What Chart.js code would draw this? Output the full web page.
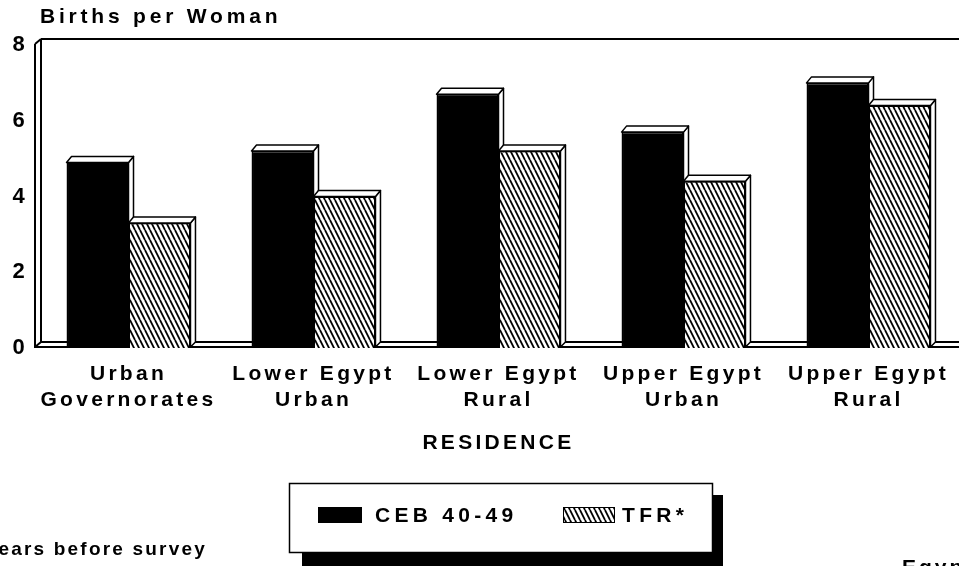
<!DOCTYPE html>
<html><head><meta charset="utf-8">
<script src="https://cdn.jsdelivr.net/npm/chart.js@4/dist/chart.umd.min.js"></script>
<style>html,body{margin:0;padding:0;background:#fff;overflow:hidden;} #wrap{width:961px;height:566px;overflow:hidden;}</style>
</head><body><div id="wrap"><canvas id="c" width="961" height="566"></canvas></div>
<script>
const categories = [["Urban","Governorates"],["Lower Egypt","Urban"],["Lower Egypt","Rural"],["Upper Egypt","Urban"],["Upper Egypt","Rural"]];
const seriesNames = ["CEB 40-49","TFR*"];
const cebValues = [4.9, 5.2, 6.7, 5.7, 7.0];
const tfrValues = [3.3, 4.0, 5.2, 4.4, 6.4];
const yTickValues = [0, 2, 4, 6, 8];
const yTitle = "Births per Woman";
const xTitle = "RESIDENCE";
const footnote = "*0-4 years before survey";
const sourceNote = "Egypt 1988";

const FAM = "'Liberation Sans', Arial, Helvetica, sans-serif";
const DX = 5, DY = 6;

function hatchPattern(ctx){
  const c = document.createElement('canvas'); c.width = 5; c.height = 10;
  const g = c.getContext('2d');
  g.fillStyle = '#fff'; g.fillRect(0,0,5,10);
  g.strokeStyle = '#000'; g.lineWidth = 1.8;
  for (const o of [-5,0,5]) { g.beginPath(); g.moveTo(o,0); g.lineTo(o+5,10); g.stroke(); }
  return ctx.createPattern(c,'repeat');
}

const canvas = document.getElementById('c');
const ctx0 = canvas.getContext('2d');
const hatch = hatchPattern(ctx0);

function spacedText(ctx, txt, x, y, font, ls, align, baseline){
  ctx.save();
  ctx.font = font; ctx.fillStyle = '#000';
  ctx.letterSpacing = ls + 'px';
  ctx.textAlign = align || 'left'; ctx.textBaseline = baseline || 'middle';
  ctx.fillText(txt, x, y);
  ctx.restore();
}

function drawFaces(c, bars){
  c.save(); c.strokeStyle = '#000'; c.fillStyle = '#fff'; c.lineWidth = 1.5; c.lineJoin = 'round';
  bars.forEach(bar => {
    const p = bar.getProps(['x','y','base','width'], true);
    const L = p.x - p.width/2, R = p.x + p.width/2, y = p.y, b = p.base;
    c.beginPath();
    c.moveTo(R, y); c.lineTo(R+DX, y-DY); c.lineTo(R+DX, b-DY); c.lineTo(R, b-1); c.closePath();
    c.fill(); c.stroke();
    c.beginPath();
    c.moveTo(L, y); c.lineTo(L+DX, y-DY); c.lineTo(R+DX, y-DY); c.lineTo(R, y); c.closePath();
    c.fill(); c.stroke();
  });
  c.restore();
}

const deco = {
  id: 'deco',
  beforeDraw(chart){ chart.ctx.letterSpacing = '3.3px'; },
  beforeDatasetsDraw(chart){
    const c = chart.ctx; const {left, top, right, bottom} = chart.chartArea;
    c.save(); c.letterSpacing = '0px';
    c.strokeStyle = '#000'; c.lineWidth = 2;
    c.beginPath();
    c.moveTo(left+DX, top-DY); c.lineTo(right+20, top-DY);
    c.moveTo(left+DX, top-DY); c.lineTo(left+DX, bottom-DY); c.lineTo(right+20, bottom-DY);
    c.moveTo(left-1, top-1); c.lineTo(left-1, bottom-1); c.lineTo(right+20, bottom-1);
    c.moveTo(left-1, top-1); c.lineTo(left+DX, top-DY);
    c.moveTo(left-1, bottom-1); c.lineTo(left+DX, bottom-DY);
    c.stroke();
    c.restore();
  },
  afterDatasetsDraw(chart){
    const c = chart.ctx;
    const m0 = chart.getDatasetMeta(0), m1 = chart.getDatasetMeta(1);
    drawFaces(c, m0.data);
    m1.data.forEach(el => el.draw(c, chart.chartArea));
    drawFaces(c, m1.data);
  },
  afterDraw(chart){
    const c = chart.ctx;
    spacedText(c, yTitle, 40, 17, "bold 21px " + FAM, 3.8, 'left', 'middle');
    c.save(); c.letterSpacing = '0px';
    c.fillStyle = '#000';
    c.fillRect(302, 552, 421, 20);
    c.fillRect(712, 495, 11, 75);
    c.strokeStyle = '#000'; c.lineWidth = 1.5;
    c.fillStyle = '#fff'; c.fillRect(289.5, 483.5, 423, 69);
    c.strokeRect(289.5, 483.5, 423, 69);
    const ds = chart.data.datasets;
    c.fillStyle = ds[0].backgroundColor; c.fillRect(318, 507, 44, 16);
    c.fillStyle = ds[1].backgroundColor; c.fillRect(563, 507, 52, 16);
    c.lineWidth = 1; c.strokeRect(563.5, 507.5, 51, 15);
    c.restore();
    spacedText(c, ds[0].label, 375, 516, "bold 21px " + FAM, 4.3, 'left', 'middle');
    spacedText(c, ds[1].label, 622, 516, "bold 21px " + FAM, 4.3, 'left', 'middle');
    spacedText(c, footnote, 207, 555, "bold 19px " + FAM, 2.2, 'right', 'alphabetic');
    spacedText(c, sourceNote, 902, 574, "bold 21px " + FAM, 3, 'left', 'alphabetic');
  }
};

new Chart(canvas, {
  type: 'bar',
  data: {
    labels: categories,
    datasets: [
      { label: seriesNames[0], data: cebValues, backgroundColor: '#000', borderColor: '#000', borderWidth: 1.5 },
      { label: seriesNames[1], data: tfrValues, backgroundColor: hatch, borderColor: '#000', borderWidth: 1.5 }
    ]
  },
  options: {
    responsive: false, animation: false, devicePixelRatio: 1,
    layout: { padding: { top: 45, bottom: 108, left: 0, right: 0 } },
    datasets: { bar: { categoryPercentage: 0.67, barPercentage: 1 } },
    plugins: { legend: { display: false }, tooltip: { enabled: false }, title: { display: false } },
    scales: {
      x: {
        grid: { display: false, drawTicks: false }, border: { display: false },
        ticks: { font: { family: FAM, size: 21, weight: 'bold', lineHeight: 1.24 }, color: '#000', padding: 13, maxRotation: 0, autoSkip: false },
        title: { display: true, text: xTitle, color: '#000', font: { family: FAM, size: 21, weight: 'bold', lineHeight: 1.2 }, padding: { top: 0, bottom: 2 } },
        afterFit(s){ s.height = 110; }
      },
      y: {
        min: 0, max: 8,
        afterBuildTicks(s){ s.ticks = yTickValues.map(v => ({ value: v })); },
        grid: { display: false, drawTicks: false }, border: { display: false },
        ticks: { font: { family: FAM, size: 22, weight: 'bold' }, color: '#000', padding: 8 },
        afterFit(s){ s.width = 36; }
      }
    }
  },
  plugins: [deco]
});
</script>
</body></html>
